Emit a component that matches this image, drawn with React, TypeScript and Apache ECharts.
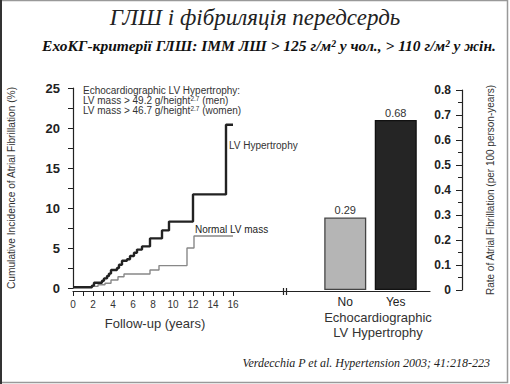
import React, { useEffect, useRef } from 'react';
import * as echarts from 'echarts';

// Cumulative incidence step curves: [year, % at which value jumps]
const lvhSteps: [number, number][] = [
  [0, 0.1], [1.9, 0.3], [2.1, 0.65], [2.9, 0.9], [3.1, 1.2], [3.4, 1.5], [3.6, 1.8],
  [3.8, 2.25], [4.4, 2.5], [4.6, 2.9], [4.9, 3.4], [5.4, 3.6], [5.7, 4.0], [6.1, 4.4],
  [6.4, 4.8], [6.9, 5.2], [7.7, 6.2], [8.9, 7.2], [9.6, 8.3], [12.0, 11.7], [15.3, 20.4],
  [16.0, 20.4],
];
const normalSteps: [number, number][] = [
  [0, 0.1], [1.8, 0.2], [2.5, 0.4], [3.2, 0.6], [3.8, 1.0], [4.5, 1.4], [5.1, 1.75],
  [7.7, 2.25], [8.6, 2.8], [11.4, 5.0], [12.1, 6.5], [16.0, 6.5],
];
const yearTicks = [0, 1, 2, 3, 4, 5, 6, 7, 8, 9, 10, 11, 12, 13, 14, 15, 16];
const yearLabels = [0, 2, 4, 6, 8, 10, 12, 14, 16];
const barCategories = ['No', 'Yes'];
const barValues = [0.29, 0.68];

const SANS = 'Liberation Sans';
const SERIF = 'Liberation Serif';
const INK = '#222';

export default function App() {
  const ref = useRef<HTMLDivElement>(null);
  useEffect(() => {
    const chart = echarts.init(ref.current!, null, { renderer: 'svg' });
    const txt = (text: string, x: number, y: number, opts: any = {}) => ({
      type: 'text', x, y, silent: true,
      style: {
        text, fill: opts.fill || '#333',
        fontFamily: opts.fontFamily || SANS, fontSize: opts.fontSize || 10,
        fontStyle: opts.fontStyle || 'normal', fontWeight: opts.fontWeight || 'normal',
        align: opts.align || 'left',
        verticalAlign: 'middle', rich: opts.rich,
      },
    });
    const supRich = {
      a: { fontSize: 10, fontFamily: SANS, fill: '#333', lineHeight: 11 },
      s: { fontSize: 6.5, fontFamily: SANS, fill: '#333', verticalAlign: 'top', lineHeight: 11 },
    };
    chart.setOption({
      animation: false,
      backgroundColor: '#fff',
      grid: [
        { left: 73, top: 88, width: 357, height: 200, containLabel: false, outerBoundsMode: 'none' },
        { left: 320, top: 90, width: 101, height: 200, containLabel: false, outerBoundsMode: 'none' },
      ],
      xAxis: [
        {
          type: 'value', gridIndex: 0, min: 0, max: 35.7, offset: 3,
          axisLine: { show: true, onZero: false, lineStyle: { color: INK, width: 1.2 } },
          axisTick: { show: true, customValues: yearTicks, length: 5, lineStyle: { color: INK } },
          axisLabel: { customValues: yearLabels, fontSize: 10, color: '#333', fontFamily: SANS, margin: 8 },
          splitLine: { show: false },
        },
        {
          type: 'category', gridIndex: 1, data: barCategories,
          axisLine: { show: false }, axisTick: { show: false },
          axisLabel: { fontSize: 12, color: INK, fontFamily: SANS, margin: 6 },
        },
      ],
      yAxis: [
        {
          type: 'value', gridIndex: 0, min: 0, max: 25, interval: 2.5, offset: 4,
          axisLine: { show: true, lineStyle: { color: INK, width: 1.2 } },
          axisTick: { show: true, length: 5, lineStyle: { color: INK } },
          axisLabel: {
            fontSize: 13, fontWeight: 'bold', color: INK, fontFamily: SANS, margin: 9,
            formatter: (v: number) => (v % 5 === 0 ? String(v) : ''),
          },
          splitLine: { show: false },
          name: 'Cumulative Incidence of Atrial Fibrillation (%)',
          nameLocation: 'middle', nameRotate: 90, nameGap: 53,
          nameTextStyle: { fontSize: 10.2, color: '#333', fontFamily: SANS },
        },
        {
          type: 'value', gridIndex: 1, min: 0, max: 0.8, interval: 0.1, position: 'right', offset: 41,
          axisLine: { show: true, lineStyle: { color: INK, width: 1.2 } },
          axisTick: { show: true, inside: true, length: 6, lineStyle: { color: INK } },
          minorTick: { show: true, splitNumber: 2, length: 4, lineStyle: { color: INK } },
          axisLabel: { inside: true, fontSize: 12, fontWeight: 'bold', color: INK, fontFamily: SANS, margin: 11 },
          splitLine: { show: false },
          name: 'Rate of Atrial Fibrillation (per 100 person-years)',
          nameLocation: 'middle', nameRotate: 90, nameGap: 23,
          nameTextStyle: { fontSize: 10, color: '#333', fontFamily: SANS },
        },
      ],
      series: [
        {
          type: 'line', xAxisIndex: 0, yAxisIndex: 0, step: 'end', data: normalSteps,
          showSymbol: false, lineStyle: { color: '#888', width: 1.4 }, silent: true,
        },
        {
          type: 'line', xAxisIndex: 0, yAxisIndex: 0, step: 'end', data: lvhSteps,
          showSymbol: false, lineStyle: { color: '#222', width: 2.4 }, silent: true,
        },
        {
          type: 'bar', xAxisIndex: 1, yAxisIndex: 1, barWidth: 42,
          data: barValues.map((v, i) => ({
            value: v,
            itemStyle: i === 0
              ? { color: '#b5b5b5', borderColor: '#444', borderWidth: 1.3 }
              : { color: '#252525', borderColor: '#111', borderWidth: 1.3 },
          })),
          label: { show: true, position: 'top', distance: 2, fontSize: 11, color: '#333', fontFamily: SANS },
        },
      ],
      graphic: {
        elements: [
          { type: 'rect', silent: true, shape: { x: 1, y: 0.5, width: 506.5, height: 382 },
            style: { fill: 'none', stroke: '#999', lineWidth: 1.5 } },
          { type: 'line', silent: true, shape: { x1: 1, y1: 0, x2: 1, y2: 384 },
            style: { stroke: '#333', lineWidth: 2 } },
          txt('ГЛШ і фібриляція передсердь', 255, 17, { fontFamily: SERIF, fontStyle: 'italic', fontSize: 23, align: 'center', fill: '#222' }),
          txt('ЕхоКГ-критерії ГЛШ: ІММ ЛШ > 125 г/м² у чол., > 110 г/м² у жін.', 269, 45, { fontFamily: SERIF, fontStyle: 'italic', fontWeight: 'bold', fontSize: 15.5, align: 'center', fill: '#111' }),
          txt('Verdecchia P et al. Hypertension 2003; 41:218-223', 490, 363, { fontFamily: SERIF, fontStyle: 'italic', fontSize: 12, align: 'right', fill: '#222' }),
          txt('Echocardiographic LV Hypertrophy:', 83, 90),
          txt('{a|LV mass > 49.2 g/height}{s|2.7}{a| (men)}', 83, 100, { rich: supRich }),
          txt('{a|LV mass > 46.7 g/height}{s|2.7}{a| (women)}', 83, 110, { rich: supRich }),
          txt('LV Hypertrophy', 229, 145),
          txt('Normal LV mass', 195, 229, { fill: '#222' }),
          txt('Follow-up (years)', 155, 323, { fontSize: 13, align: 'center' }),
          txt('Echocardiographic', 378, 317, { fontSize: 13, align: 'center' }),
          txt('LV Hypertrophy', 378, 332, { fontSize: 13, align: 'center' }),
          { type: 'rect', silent: true, shape: { x: 283.5, y: 288, width: 3, height: 7 }, style: { fill: '#fff' } },
          { type: 'line', silent: true, shape: { x1: 283.5, y1: 288, x2: 283.5, y2: 295 }, style: { stroke: INK, lineWidth: 1.2 } },
          { type: 'line', silent: true, shape: { x1: 286.5, y1: 288, x2: 286.5, y2: 295 }, style: { stroke: INK, lineWidth: 1.2 } },
        ],
      },
    });
    return () => chart.dispose();
  }, []);
  return <div ref={ref} style={{ position: 'fixed', left: 0, top: 0, width: 510, height: 384, background: '#fff' }} />;
}
